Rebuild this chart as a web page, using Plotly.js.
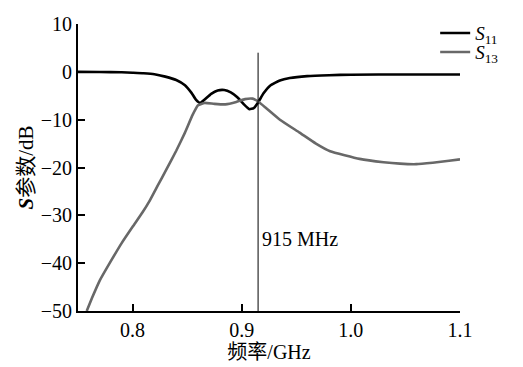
<!DOCTYPE html>
<html>
<head>
<meta charset="utf-8">
<script src="https://cdn.plot.ly/plotly-3.0.1.min.js"></script>
<style>html,body{margin:0;padding:0;background:#fff;}#chart{width:523px;height:367px;}</style>
</head>
<body>
<div id="chart"></div>
<script>
// S11 (black)
const s11Freq = [0.75,0.77,0.79,0.80,0.81,0.82,0.83,0.84,0.848,0.854,0.858,0.862,0.866,0.872,0.878,0.884,0.890,0.896,0.902,0.907,0.911,0.915,0.920,0.926,0.935,0.944,0.96,0.98,1.00,1.05,1.10];
const s11Val  = [0,-0.05,-0.1,-0.2,-0.3,-0.5,-1.0,-1.7,-2.8,-4.4,-5.8,-6.5,-5.8,-4.6,-3.9,-3.8,-4.3,-5.3,-6.8,-7.8,-7.6,-6.4,-4.5,-2.9,-1.8,-1.3,-0.9,-0.7,-0.6,-0.55,-0.55];
// S13 (gray)
const s13Freq = [0.758,0.763,0.770,0.779,0.790,0.800,0.809,0.816,0.823,0.831,0.840,0.848,0.855,0.860,0.866,0.875,0.885,0.895,0.903,0.910,0.915,0.922,0.935,0.953,0.968,0.981,1.008,1.03,1.045,1.06,1.075,1.09,1.10];
const s13Val  = [-50,-47.2,-43.6,-40,-35.8,-32.4,-29.4,-26.8,-23.8,-20.4,-16.5,-12.7,-9.0,-7.0,-6.5,-6.7,-6.8,-6.3,-5.7,-5.6,-6.2,-7.5,-10,-12.7,-15,-16.6,-18.2,-18.9,-19.2,-19.3,-19.0,-18.6,-18.3];
// 915 MHz marker
const markerFreq = [0.915, 0.915];
const markerDb = [-50, 4];
const markerLabel = '915 MHz';
const markerLabelPos = [0.917, -35];
// axes
const xTicks = [0.8, 0.9, 1.0, 1.1];
const xTickText = ['0.8', '0.9', '1.0', '1.1'];
const yTicks = [10, 0, -10, -20, -30, -40, -50];
const yTickText = ['10', '0', '−10', '−20', '−30', '−40', '−50'];

const serif = '"Liberation Serif", "Noto Sans CJK SC", serif';

const traces = [
  {x: s11Freq, y: s11Val, mode: 'lines', name: '<i>S</i><sub>11</sub>', legend: 'legend',
   line: {color: '#000000', width: 2.6, shape: 'spline', smoothing: 0.4}},
  {x: s13Freq, y: s13Val, mode: 'lines', name: '<i>S</i><sub>13</sub>', legend: 'legend2',
   line: {color: '#686868', width: 2.6, shape: 'spline', smoothing: 0.4}},
  {x: markerFreq, y: markerDb, mode: 'lines', showlegend: false, hoverinfo: 'skip',
   line: {color: '#000000', width: 1}}
];

const legendCommon = {xanchor: 'left', yanchor: 'middle', bgcolor: 'rgba(0,0,0,0)',
  font: {family: serif, size: 19, color: '#000'}, itemwidth: 30};

const layout = {
  width: 523, height: 367,
  margin: {l: 78, r: 63, t: 24, b: 56},
  paper_bgcolor: '#ffffff', plot_bgcolor: '#ffffff',
  font: {family: serif, color: '#000', size: 20},
  showlegend: true,
  legend: Object.assign({x: 0.935, y: 0.968}, legendCommon),
  legend2: Object.assign({x: 0.935, y: 0.902}, legendCommon),
  xaxis: {range: [0.75, 1.1], tickvals: xTicks, ticktext: xTickText,
          ticks: 'inside', ticklen: 7, tickwidth: 2, tickcolor: '#000',
          showline: true, linecolor: '#000', linewidth: 2, showgrid: false, zeroline: false,
          tickfont: {family: serif, size: 20},
          title: {text: '频率/GHz', font: {family: serif, size: 20}, standoff: 0}},
  yaxis: {range: [-50, 10], tickvals: yTicks, ticktext: yTickText,
          ticks: 'inside', ticklen: 7, tickwidth: 2, tickcolor: '#000',
          showline: true, linecolor: '#000', linewidth: 2, showgrid: false, zeroline: false,
          tickfont: {family: serif, size: 20},
          title: {text: '<b><i>S</i></b>参数/dB', font: {family: serif, size: 21}, standoff: 1}},
  annotations: [
    {x: markerLabelPos[0], y: markerLabelPos[1], xref: 'x', yref: 'y', text: markerLabel,
     showarrow: false, xanchor: 'left', yanchor: 'middle', font: {family: serif, size: 20, color: '#000'}}
  ]
};

Plotly.newPlot('chart', traces, layout, {displayModeBar: false, staticPlot: true});
</script>
</body>
</html>
